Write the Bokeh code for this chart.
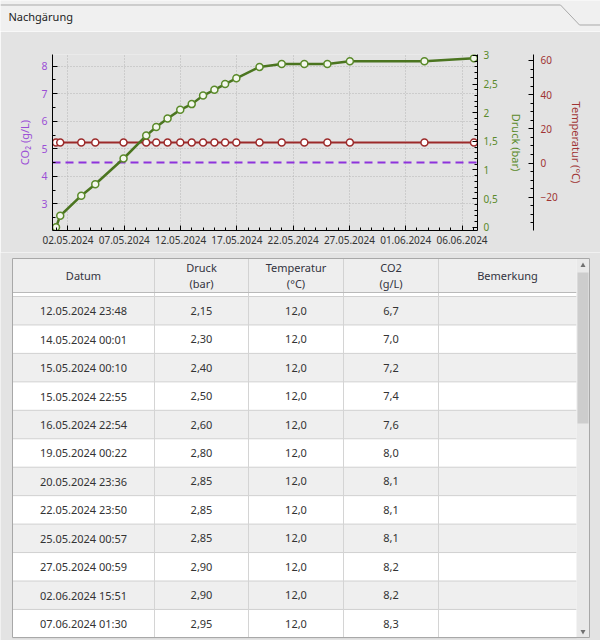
import datetime as dt
from bokeh.plotting import figure
from bokeh.models import (Range1d, LinearAxis, FixedTicker, DatetimeTickFormatter,
                          CustomJSTickFormatter, Span, ColumnDataSource)
from bokeh.layouts import column
from bokeh.embed import file_html
from bokeh.resources import INLINE
from bokeh.core.properties import value

# ---------------- data ----------------
datum = ["30.04.2024 22:30", "01.05.2024 07:30", "03.05.2024 04:20", "04.05.2024 10:10",
         "06.05.2024 22:30", "08.05.2024 22:50", "09.05.2024 20:10", "10.05.2024 20:20",
         "11.05.2024 23:20", "12.05.2024 23:48", "14.05.2024 00:01", "15.05.2024 00:10",
         "15.05.2024 22:55", "16.05.2024 22:54", "19.05.2024 00:22", "20.05.2024 23:36",
         "22.05.2024 23:50", "25.05.2024 00:57", "27.05.2024 00:59", "02.06.2024 15:51",
         "07.06.2024 01:30"]
druck = [0.0, 0.2, 0.55, 0.75, 1.2, 1.6, 1.75, 1.9, 2.05, 2.15, 2.30, 2.40,
         2.50, 2.60, 2.80, 2.85, 2.85, 2.85, 2.90, 2.90, 2.95]
temperatur = [12.0, 12.0, 12.0, 12.0, 12.0, 12.0, 12.0, 12.0, 12.0, 12.0, 12.0, 12.0,
              12.0, 12.0, 12.0, 12.0, 12.0, 12.0, 12.0, 12.0, 12.0]
co2 = [2.1, 2.5, 3.3, 3.7, 4.7, 5.5, 5.8, 6.1, 6.4, 6.7, 7.0, 7.2,
       7.4, 7.6, 8.0, 8.1, 8.1, 8.1, 8.2, 8.2, 8.3]
bemerkung = [""] * len(datum)
co2_ziel = 4.5

x_tick_labels = ["02.05.2024", "07.05.2024", "12.05.2024", "17.05.2024",
                 "22.05.2024", "27.05.2024", "01.06.2024", "06.06.2024"]
co2_ticks = [3, 4, 5, 6, 7, 8]
druck_ticks = [0, 0.5, 1, 1.5, 2, 2.5, 3]
temp_ticks = [-20, 0, 20, 40, 60]
header_labels = [["Datum"], ["Druck", "(bar)"], ["Temperatur", "(°C)"], ["CO2", "(g/L)"], ["Bemerkung"]]
tab_title = "Nachgärung"

# ---------------- styles ----------------
FONT = "Noto Sans"
PANEL = "#e3e3e3"
PAGE = "#f0f0f0"
C_CO2 = "#9b4fd6"
C_DRUCK = "#5a8a2a"
C_DRUCK_LINE = "#4b7520"
C_TEMP = "#a03434"
C_TEMP_LINE = "#9c2a2a"
C_DASH = "#8e33dc"
W = 600

EPOCH = dt.datetime(1970, 1, 1)


def ms(d):
    return (d - EPOCH).total_seconds() * 1000.0


x = [dt.datetime.strptime(s, "%d.%m.%Y %H:%M") for s in datum]
src = ColumnDataSource(dict(x=x, druck=druck, temp=temperatur, co2=co2))

x_major = [ms(dt.datetime.strptime(s, "%d.%m.%Y")) for s in x_tick_labels]
x_minor = [ms(dt.datetime(2024, 5, 1) + dt.timedelta(days=i)) for i in range(0, 38)]

# ---------------- header strip (tab) ----------------
h = figure(width=W, height=31, x_range=Range1d(0, W), y_range=Range1d(31, 0),
           x_axis_location=None, y_axis_location=None, toolbar_location=None,
           output_backend="svg", min_border=0, background_fill_color=PAGE,
           border_fill_color=PAGE, outline_line_color=None, frame_align=False)
h.grid.visible = False
h.line([0, 560, 579, 600], [4.5, 4.5, 24.5, 24.5], line_color="#a9a9a9", line_width=1)
h.text(x=[8], y=[15.5], text=[tab_title], text_font=value(FONT), text_font_size="11px",
       text_baseline="middle", text_align="left", text_color="#222222")

# ---------------- chart ----------------
p = figure(width=W, height=221, x_axis_type="datetime",
           x_range=Range1d(dt.datetime(2024, 4, 30, 15, 0), dt.datetime(2024, 6, 7, 9, 0)),
           y_range=Range1d(2.03, 8.425),
           output_backend="svg", toolbar_location=None,
           min_border_left=52, min_border_right=123, min_border_top=23, min_border_bottom=22,
           background_fill_color=PANEL, border_fill_color=PANEL, outline_line_color=None,
           frame_align=False)
p.extra_y_ranges = {"druck": Range1d(-0.058, 3.017), "temp": Range1d(-39.5, 63.5)}


def style_axis(ax, color, label_color=None, size="10px"):
    ax.axis_line_color = "black"
    ax.major_tick_line_color = "black"
    ax.minor_tick_line_color = "black"
    ax.major_tick_in = 5
    ax.major_tick_out = 0
    ax.minor_tick_in = 3
    ax.minor_tick_out = 0
    ax.major_label_text_color = color
    ax.major_label_text_font = FONT
    ax.major_label_text_font_size = size
    ax.axis_label_text_color = label_color or color
    ax.axis_label_text_font = FONT
    ax.axis_label_text_font_size = "11px"
    ax.axis_label_text_font_style = "normal"


comma = CustomJSTickFormatter(code="return tick.toString().replace('.', ',');")

xa = p.xaxis[0]
style_axis(xa, "#333333")
xa.ticker = FixedTicker(ticks=x_major, minor_ticks=x_minor)
fmt = "%d.%m.%Y"
xa.formatter = DatetimeTickFormatter(microseconds=fmt, milliseconds=fmt, seconds=fmt,
                                     minsec=fmt, minutes=fmt, hourmin=fmt, hours=fmt,
                                     days=fmt, months=fmt, years=fmt)
xa.major_label_standoff = 5

ya = p.yaxis[0]
style_axis(ya, C_CO2, size="10.5px")
ya.ticker = FixedTicker(ticks=co2_ticks, minor_ticks=[t + 0.5 for t in [2] + co2_ticks])
ya.axis_label = "CO\u2082 (g/L)"
ya.major_label_standoff = 5
ya.axis_label_standoff = 6

da = LinearAxis(y_range_name="druck", axis_label="Druck (bar)")
style_axis(da, C_DRUCK)
da.ticker = FixedTicker(ticks=druck_ticks,
                        minor_ticks=[i / 10 for i in range(0, 31)])
da.formatter = comma
da.major_label_standoff = 6
da.axis_label_standoff = 8
p.add_layout(da, "right")

# spacer between the two right axes: a single tick drawn in the panel colour
sp = LinearAxis(y_range_name="druck", ticker=FixedTicker(ticks=[1.5]),
                formatter=CustomJSTickFormatter(code="return '';"),
                axis_line_color=PANEL, major_tick_out=7, major_tick_in=0,
                minor_tick_out=0, minor_tick_in=0,
                major_tick_line_color=PANEL, minor_tick_line_color=None,
                major_label_standoff=0, major_label_text_font=FONT,
                major_label_text_font_size="8px", major_label_text_color=PANEL)
p.add_layout(sp, "right")

ta = LinearAxis(y_range_name="temp", axis_label="Temperatur (°C)")
style_axis(ta, C_TEMP)
ta.ticker = FixedTicker(ticks=temp_ticks, minor_ticks=list(range(-40, 65, 5)))
ta.major_label_standoff = 7
ta.axis_label_standoff = 8
p.add_layout(ta, "right")

for g in (p.xgrid[0], p.ygrid[0]):
    g.grid_line_color = "#b4b4b4"
    g.grid_line_dash = "1 2"
    g.grid_line_width = 1

p.add_layout(Span(location=co2_ziel, dimension="width", line_color=C_DASH,
                  line_dash="8 5", line_width=2, level="underlay"))

p.line("x", "temp", source=src, y_range_name="temp", line_color=C_TEMP_LINE, line_width=2)
p.scatter("x", "temp", source=src, y_range_name="temp", size=7, fill_color="white",
          line_color=C_TEMP_LINE, line_width=1.5)
p.line("x", "druck", source=src, y_range_name="druck", line_color=C_DRUCK_LINE, line_width=2.5)
p.scatter("x", "druck", source=src, y_range_name="druck", size=7, fill_color="#f4f8ee",
          line_color=C_DRUCK, line_width=1.5)

# ---------------- table ----------------
COLS = [12, 154, 248, 343, 438, 576]
TBL_TOP, HDR_BOT, ROW0, ROW_H, TBL_BOT = 258, 292, 296, 28.45, 637
SB_L, SB_R, THUMB_TOP, THUMB_BOT = 576, 589, 272, 423
first_full = 9  # index of first fully visible row (scroll position)

t = figure(width=W, height=388, x_range=Range1d(0, W), y_range=Range1d(640, 252),
           x_axis_location=None, y_axis_location=None, toolbar_location=None,
           output_backend="svg", min_border=0, background_fill_color=PANEL,
           border_fill_color=PANEL, outline_line_color=None, frame_align=False)
t.grid.visible = False

t.quad(left=[COLS[0]], right=[SB_R], top=[TBL_TOP], bottom=[TBL_BOT],
       fill_color="white", line_color=None)

idx = list(range(first_full - 1, len(datum)))
ks = [i - first_full for i in idx]
r_top = [ROW0 + k * ROW_H for k in ks]
r_bot = [ROW0 + (k + 1) * ROW_H for k in ks]
r_fill = ["#efefef" if k % 2 == 0 else "#ffffff" for k in ks]
t.quad(left=COLS[0], right=COLS[-1], top=r_top, bottom=r_bot, fill_color=r_fill,
       line_color=None)
t.segment(x0=COLS[0], x1=COLS[-1], y0=r_bot, y1=r_bot, line_color="#d0d0d0", line_width=1)
t.segment(x0=COLS[1:-1], x1=COLS[1:-1], y0=HDR_BOT, y1=TBL_BOT, line_color="#d4d4d4",
          line_width=1)

cx = [(COLS[j] + COLS[j + 1]) / 2 for j in range(5)]
tx, ty, tt = [], [], []
for i, k in zip(idx, ks):
    yc = ROW0 + k * ROW_H + ROW_H / 2
    vals = [datum[i], f"{druck[i]:.2f}".replace(".", ","),
            f"{temperatur[i]:.1f}".replace(".", ","), f"{co2[i]:.1f}".replace(".", ","),
            bemerkung[i]]
    for j, v in enumerate(vals):
        if v:
            tx.append(cx[j]); ty.append(yc); tt.append(v)
t.text(x=tx, y=ty, text=tt, text_font=value(FONT), text_font_size="11px",
       text_align="center", text_baseline="middle", text_color="#333333")

# header
t.quad(left=[COLS[0]], right=[COLS[-1]], top=[TBL_TOP], bottom=[HDR_BOT],
       fill_color="#eeeeee", line_color=None)
t.segment(x0=COLS[1:-1], x1=COLS[1:-1], y0=TBL_TOP, y1=HDR_BOT, line_color="#d2d2d2")
t.segment(x0=[COLS[0]], x1=[COLS[-1]], y0=[HDR_BOT], y1=[HDR_BOT], line_color="#b9b9b9")
hx, hy, ht = [], [], []
hc = (TBL_TOP + HDR_BOT) / 2
for j, lines in enumerate(header_labels):
    n = len(lines)
    for m, s in enumerate(lines):
        hx.append(cx[j]); hy.append(hc + (m - (n - 1) / 2) * 15.5); ht.append(s)
t.text(x=hx, y=hy, text=ht, text_font=value(FONT), text_font_size="11px",
       text_align="center", text_baseline="middle", text_color="#333340")

# scrollbar
t.quad(left=[SB_L], right=[SB_R], top=[TBL_TOP], bottom=[TBL_BOT], fill_color="#e9e9e9",
       line_color=None)
t.quad(left=[SB_L + 1], right=[SB_R - 1], top=[THUMB_TOP], bottom=[THUMB_BOT],
       fill_color="#cdcdcd", line_color=None)
t.scatter(x=[(SB_L + SB_R) / 2], y=[265], marker="triangle", size=5,
          fill_color="#707070", line_color=None)
t.scatter(x=[(SB_L + SB_R) / 2], y=[631], marker="inverted_triangle", size=5,
          fill_color="#707070", line_color=None)

# outer frame
t.quad(left=[COLS[0]], right=[SB_R], top=[TBL_TOP], bottom=[TBL_BOT],
       fill_color=None, line_color="#a8a8a8", line_width=1)

layout = column(h, p, t, spacing=0)
open("out.html", "w").write(file_html(layout, INLINE))
